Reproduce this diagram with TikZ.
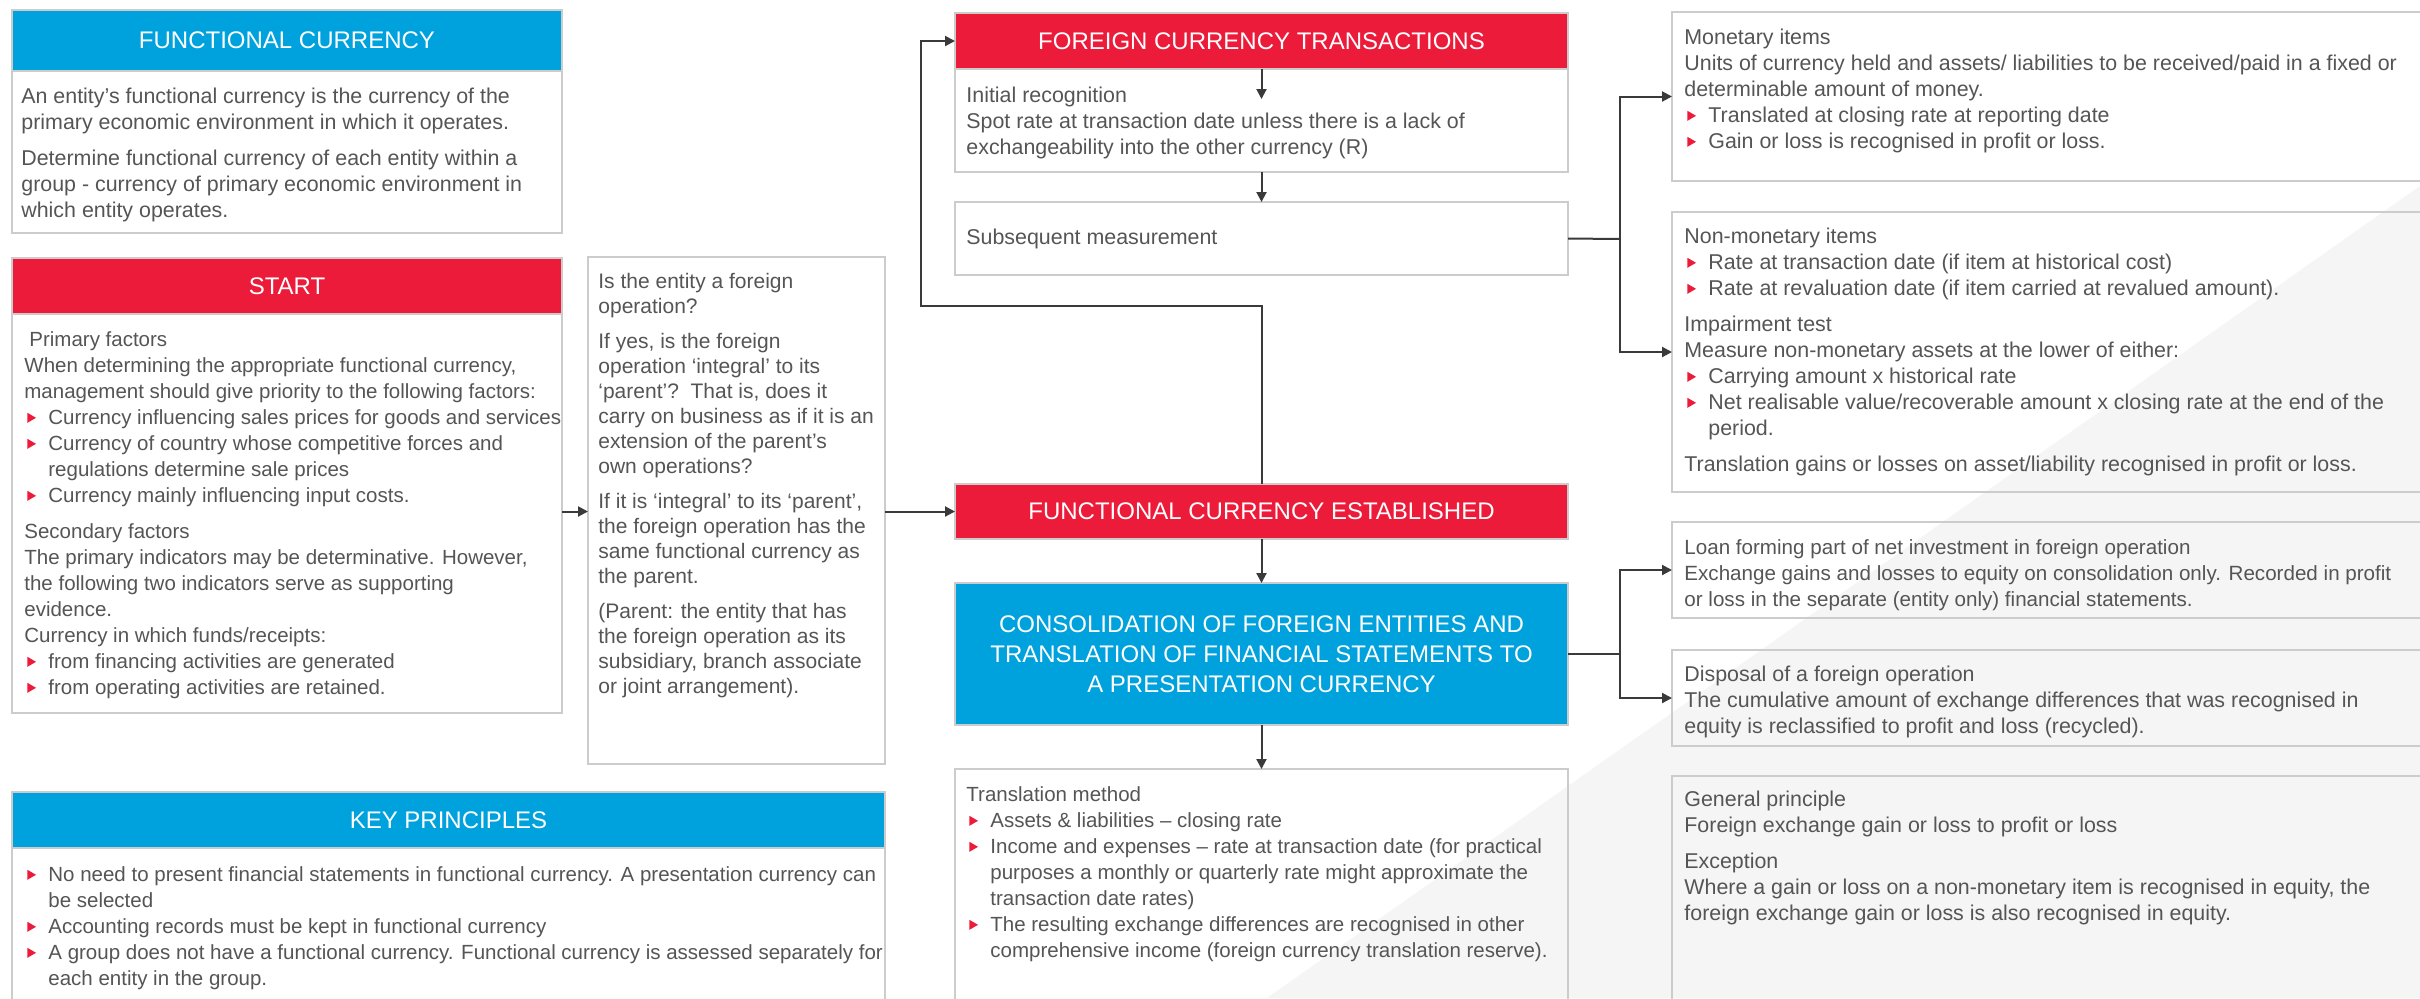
\documentclass[tikz,border=0pt]{standalone}
\usepackage{fontspec}
\setmainfont{Liberation Sans}
\usetikzlibrary{arrows.meta,fit}
\definecolor{fcred}{HTML}{ED1B3A}
\definecolor{fcblue}{HTML}{00A2DE}
\definecolor{txt}{HTML}{555555}
\definecolor{bord}{HTML}{CCCCCC}
\definecolor{arrc}{HTML}{3A3A3A}
\definecolor{bgtri}{HTML}{F5F5F5}
\newcommand\bfs{\fontsize{10.7pt}{13pt}\selectfont}
\newcommand\sfs{\fontsize{10.25pt}{13pt}\selectfont}
\newcommand\nfs{\fontsize{10.25pt}{13pt}\selectfont}
\newcommand\lfs{\fontsize{10.3pt}{13pt}\selectfont}
\newcommand\fopfs{\fontsize{10.5pt}{12.5pt}\selectfont}
\newcommand\hfs{\fontsize{12pt}{15pt}\selectfont}
\newcommand\tri{\tikz[baseline=0pt]\fill[fcred] (0pt,0.9pt) -- (0pt,5.9pt) -- (4.3pt,3.4pt) -- cycle;}
\newcommand\bul{\makebox[12pt][l]{\hspace{1.5pt}\tri}}
\newcommand\ind{\hspace*{12pt}}
\begin{document}
\begin{tikzpicture}[x=0.5pt,y=-0.5pt,
  frame/.style={draw=bord, line width=1pt, inner sep=0pt, outer sep=0pt},
  hred/.style={fill=fcred, draw=bord, line width=0.6pt, inner sep=0pt, outer sep=0pt},
  hblue/.style={fill=fcblue, draw=bord, line width=0.6pt, inner sep=0pt, outer sep=0pt},
  htext/.style={text=white, font=\hfs, inner sep=0pt, align=center},
  btext/.style={text=txt, font=\bfs, inner sep=0pt, align=left, anchor=north west},
  arr/.style={draw=arrc, line width=1pt, -{Triangle[length=5pt,width=5pt]}},
  conn/.style={draw=arrc, line width=1pt}]
\useasboundingbox (0,0) rectangle (2420,998);
\clip (0,0) rectangle (2420,998);
\fill[white] (0,0) rectangle (2420,998);
\fill[bgtri] (2420,186) -- (2420,998) -- (1267,998) -- cycle;

% ---------- left column ----------
\node[hblue, fit={(12,10) (562,71)}] (fch) {};
\node[htext] (fcht) at (fch.center) {FUNCTIONAL CURRENCY};
\node[frame, fit={(12,71) (562,233)}] (fcb) {};
\node[btext] (fcbt) at (21,85) {\strut An entity’s functional currency is the currency of the\\ primary economic environment in which it operates.\\[5pt] Determine functional currency of each entity within a\\ group - currency of primary economic environment in\\ which entity operates.};

\node[hred, fit={(12,258) (562,314)}] (sth) {};
\node[htext] (stht) at (sth.center) {START};
\node[frame, fit={(12,314) (562,713)}] (start) {};
\node[btext, font=\sfs] (startt) at (24,328) {\strut\hspace{2.5pt}Primary factors\\ When determining the appropriate functional currency,\\ management should give priority to the following factors:\\ \bul Currency influencing sales prices for goods and services\\ \bul Currency of country whose competitive forces and\\ \ind regulations determine sale prices\\ \bul Currency mainly influencing input costs.\\[5pt] Secondary factors\\ The primary indicators may be determinative. However,\\ the following two indicators serve as supporting\\ evidence.\\ Currency in which funds/receipts:\\ \bul from financing activities are generated\\ \bul from operating activities are retained.};

\node[frame, fit={(588,257) (885,764)}] (fop) {};
\node[btext, font=\fopfs] (fopt) at (598,271) {\strut Is the entity a foreign\\ operation?\\[5pt] If yes, is the foreign\\ operation ‘integral’ to its\\ ‘parent’?\ \ That is, does it\\ carry on business as if it is an\\ extension of the parent’s\\ own operations?\\[5pt] If it is ‘integral’ to its ‘parent’,\\ the foreign operation has the\\ same functional currency as\\ the parent.\\[5pt] (Parent: the entity that has\\ the foreign operation as its\\ subsidiary, branch associate\\ or joint arrangement).};

\node[hblue, fit={(12,792) (885,848)}] (kph) {};
\node[htext] (kpht) at (kph.center) {KEY PRINCIPLES};
\node[frame, fit={(12,848) (885,1010)}] (kp) {};
\node[btext, font=\nfs] (kpt) at (24,863) {\strut\bul No need to present financial statements in functional currency. A presentation currency can\\ \ind be selected\\ \bul Accounting records must be kept in functional currency\\ \bul A group does not have a functional currency. Functional currency is assessed separately for\\ \ind each entity in the group.};

% ---------- middle column ----------
\node[hred, fit={(955,13) (1568,69)}] (fcth) {};
\node[htext] (fctht) at (fcth.center) {FOREIGN CURRENCY TRANSACTIONS};
\node[frame, fit={(955,69) (1568,172)}] (fcti) {};
\node[btext] (fctit) at (966,84) {\strut Initial recognition\\ Spot rate at transaction date unless there is a lack of\\ exchangeability into the other currency (R)};
\coordinate (irtip) at (1261.5,99);
\node[frame, fit={(955,202) (1568,275)}] (subs) {};
\node[btext, anchor=west] (subst) at (966,239) {Subsequent measurement};

\node[hred, fit={(955,484) (1568,539)}] (fce) {};
\node[htext] (fcet) at (fce.center) {FUNCTIONAL CURRENCY ESTABLISHED};
\node[hblue, fit={(955,583) (1568,725)}] (cons) {};
\node[htext] (const) at (cons.center) {CONSOLIDATION OF FOREIGN ENTITIES AND\\ TRANSLATION OF FINANCIAL STATEMENTS TO\\ A PRESENTATION CURRENCY};
\node[frame, fit={(955,769) (1568,1010)}] (trans) {};
\node[btext, font=\nfs] (transt) at (966,783) {\strut Translation method\\ \bul Assets \& liabilities -- closing rate\\ \bul Income and expenses -- rate at transaction date (for practical\\ \ind purposes a monthly or quarterly rate might approximate the\\ \ind transaction date rates)\\ \bul The resulting exchange differences are recognised in other\\ \ind comprehensive income (foreign currency translation reserve).};

% ---------- right column ----------
\node[frame, fit={(1672,12) (2440,181)}] (mon) {};
\node[btext] (mont) at (1684,26) {\strut Monetary items\\ Units of currency held and assets/ liabilities to be received/paid in a fixed or\\ determinable amount of money.\\ \bul Translated at closing rate at reporting date\\ \bul Gain or loss is recognised in profit or loss.};
\node[frame, fit={(1672,212) (2440,492)}] (nmon) {};
\node[btext] (nmont) at (1684,225) {\strut Non-monetary items\\ \bul Rate at transaction date (if item at historical cost)\\ \bul Rate at revaluation date (if item carried at revalued amount).\\[5pt] Impairment test\\ Measure non-monetary assets at the lower of either:\\ \bul Carrying amount x historical rate\\ \bul Net realisable value/recoverable amount x closing rate at the end of the\\ \ind period.\\[5pt] Translation gains or losses on asset/liability recognised in profit or loss.};
\node[frame, fit={(1672,522) (2440,618)}] (loan) {};
\node[btext, font=\lfs] (loant) at (1684,536) {\strut Loan forming part of net investment in foreign operation\\ Exchange gains and losses to equity on consolidation only. Recorded in profit\\ or loss in the separate (entity only) financial statements.};
\node[frame, fit={(1672,650) (2440,746)}] (disp) {};
\node[btext] (dispt) at (1684,663) {\strut Disposal of a foreign operation\\ The cumulative amount of exchange differences that was recognised in\\ equity is reclassified to profit and loss (recycled).};
\node[frame, fit={(1672,776) (2440,1010)}] (gp) {};
\node[btext] (gpt) at (1684,788) {\strut General principle\\ Foreign exchange gain or loss to profit or loss\\[5pt] Exception\\ Where a gain or loss on a non-monetary item is recognised in equity, the\\ foreign exchange gain or loss is also recognised in equity.};

% ---------- connectors ----------
\draw[arr] (start.east |- fce.west) -- (fop.west |- fce.west);
\draw[arr] (fop.east |- fce.west) -- (fce.west);
\coordinate (fb) at (921,306);
\draw[arr] (fce.north) |- (fb) |- (fcth.west);
\draw[arr] (fcth.south) -- (irtip);
\draw[arr] (fcti.south) -- (subs.north);
\draw[arr] (fce.south) -- (cons.north);
\draw[arr] (cons.south) -- (trans.north);
\coordinate (j1) at (1620,239);
\draw[conn] (subs.east) -- (j1);
\draw[arr] (j1) |- (mon.west);
\draw[arr] (j1) |- (nmon.west);
\coordinate (j2) at (1620,654);
\draw[conn] (cons.east) -- (j2);
\draw[arr] (j2) |- (loan.west);
\draw[arr] (j2) |- (disp.west);
\end{tikzpicture}
\end{document}
